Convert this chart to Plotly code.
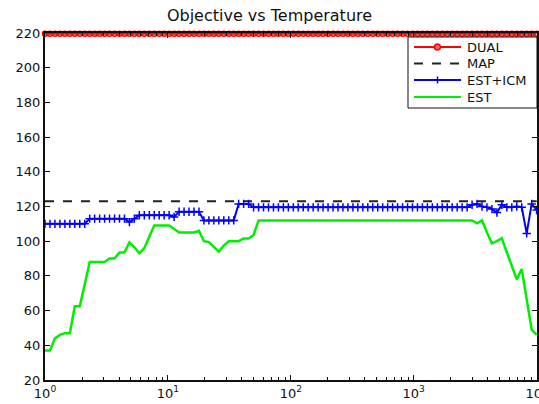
import numpy as np
import plotly.graph_objects as go

# Temperature grid: 100 log-spaced samples from 1 to 10^4
temperature = np.logspace(0, 4, 100)

# Objective values per temperature sample
dual = [
    219.5, 219.5, 219.5, 219.5, 219.5, 219.5, 219.5, 219.5, 219.5, 219.5,
    219.5, 219.5, 219.5, 219.5, 219.5, 219.5, 219.5, 219.5, 219.5, 219.5,
    219.5, 219.5, 219.5, 219.5, 219.5, 219.5, 219.5, 219.5, 219.5, 219.5,
    219.5, 219.5, 219.5, 219.5, 219.5, 219.5, 219.5, 219.5, 219.5, 219.5,
    219.5, 219.5, 219.5, 219.5, 219.5, 219.5, 219.5, 219.5, 219.5, 219.5,
    219.5, 219.5, 219.5, 219.5, 219.5, 219.5, 219.5, 219.5, 219.5, 219.5,
    219.5, 219.5, 219.5, 219.5, 219.5, 219.5, 219.5, 219.5, 219.5, 219.5,
    219.5, 219.5, 219.5, 219.5, 219.5, 219.5, 219.5, 219.5, 219.5, 219.5,
    219.5, 219.5, 219.5, 219.5, 219.5, 219.5, 219.5, 219.5, 219.5, 219.5,
    219.5, 219.5, 219.5, 219.5, 219.5, 219.5, 219.5, 219.5, 219.5, 219.5,
]

map_value = [123, 123]
map_temperature = [1, 10000]

est_icm = [
    110, 110, 110, 110, 110, 110, 110, 110, 110, 113,
    113, 113, 113, 113, 113, 113, 113, 111, 113, 115,
    115, 115, 115, 115, 115, 115, 114, 117, 117, 117,
    117, 117, 112, 112, 112, 112, 112, 112, 112, 121.5,
    121.5, 121.5, 119.5, 119.5, 119.5, 119.5, 119.5, 119.5, 119.5, 119.5,
    119.5, 119.5, 119.5, 119.5, 119.5, 119.5, 119.5, 119.5, 119.5, 119.5,
    119.5, 119.5, 119.5, 119.5, 119.5, 119.5, 119.5, 119.5, 119.5, 119.5,
    119.5, 119.5, 119.5, 119.5, 119.5, 119.5, 119.5, 119.5, 119.5, 119.5,
    119.5, 119.5, 119.5, 119.5, 119.5, 119.5, 121, 121.5, 120, 119.5,
    118.5, 116.5, 121, 119.5, 119.5, 120, 119.5, 104.5, 121.5, 118,
]

est = [
    37, 37, 44, 46, 47, 47, 62.5, 62.5, 75, 88,
    88, 88, 88, 90, 90, 93.5, 93.5, 99.3, 96.5, 93,
    96, 102.5, 109, 109, 109, 109, 107, 105, 105, 105,
    105, 106, 100, 99.5, 97, 94, 97.5, 100, 100, 100,
    101.6, 101.6, 103.6, 112, 112, 112, 112, 112, 112, 112,
    112, 112, 112, 112, 112, 112, 112, 112, 112, 112,
    112, 112, 112, 112, 112, 112, 112, 112, 112, 112,
    112, 112, 112, 112, 112, 112, 112, 112, 112, 112,
    112, 112, 112, 112, 112, 112, 112, 110.3, 112, 105,
    98.8, 100, 101.6, 93.5, 86, 78, 84, 66, 49, 46,
]

series_names = ["DUAL", "MAP", "EST+ICM", "EST"]
series_colors = ["#ff0000", "#222222", "#0000ff", "#00ee00"]

x_tick_vals = [1, 10, 100, 1000, 10000]
x_tick_text = ["10<sup>0</sup>", "10<sup>1</sup>", "10<sup>2</sup>",
               "10<sup>3</sup>", "10<sup>4</sup>"]
x_minor_vals = [m * 10 ** d for d in range(4) for m in range(2, 10)]
y_tick_vals = [20, 40, 60, 80, 100, 120, 140, 160, 180, 200, 220]

FONT = "DejaVu Sans, Liberation Sans, Arial, sans-serif"
W, H = 539, 404
ML, MR, MT, MB = 45, 2, 33, 24
PW, PH = W - ML - MR, H - MT - MB


def px(x):
    """Pixel x to paper coordinate."""
    return (x - ML) / PW


def py(y):
    """Pixel y (from top) to paper coordinate."""
    return (H - MB - y) / PH


fig = go.Figure()

fig.add_trace(go.Scatter(
    x=temperature, y=dual, name=series_names[0], mode="lines+markers",
    line=dict(color=series_colors[0], width=2),
    marker=dict(symbol="circle-open", size=5, color=series_colors[0],
                line=dict(color=series_colors[0], width=1.5)),
    cliponaxis=False,
))
fig.add_trace(go.Scatter(
    x=map_temperature, y=map_value, name=series_names[1], mode="lines",
    line=dict(color=series_colors[1], width=2, dash="dash"),
))
fig.add_trace(go.Scatter(
    x=temperature, y=est_icm, name=series_names[2], mode="lines+markers",
    line=dict(color=series_colors[2], width=2),
    marker=dict(symbol="cross-thin", size=6, color=series_colors[2],
                line=dict(color=series_colors[2], width=1.5)),
))
fig.add_trace(go.Scatter(
    x=temperature, y=est, name=series_names[3], mode="lines",
    line=dict(color=series_colors[3], width=2.5),
))

# Legend box drawn with shapes and annotations for compact row spacing
shapes = [dict(type="rect", xref="paper", yref="paper",
               x0=px(408), x1=px(537), y0=py(108), y1=py(37),
               fillcolor="white", line=dict(color="#111111", width=1),
               layer="above")]
annotations = []
row_y = [47, 63.5, 80, 97]
line_x0, line_x1, mark_x, text_x = 414, 461, 437.5, 465
for i, (name, color) in enumerate(zip(series_names, series_colors)):
    yy = py(row_y[i])
    shapes.append(dict(type="line", xref="paper", yref="paper",
                       x0=px(line_x0), x1=px(line_x1), y0=yy, y1=yy,
                       line=dict(color=color, width=2,
                                 dash="dash" if name == "MAP" else "solid"),
                       layer="above"))
    if name == "DUAL":
        shapes.append(dict(type="circle", xref="paper", yref="paper",
                           x0=px(mark_x - 3), x1=px(mark_x + 3),
                           y0=py(row_y[i] + 3), y1=py(row_y[i] - 3),
                           fillcolor="#ff6666", line=dict(color=color, width=1.5),
                           layer="above"))
    if name == "EST+ICM":
        shapes.append(dict(type="line", xref="paper", yref="paper",
                           x0=px(mark_x), x1=px(mark_x),
                           y0=py(row_y[i] + 3.5), y1=py(row_y[i] - 3.5),
                           line=dict(color=color, width=1.5), layer="above"))
    annotations.append(dict(text=name, xref="paper", yref="paper",
                            x=px(text_x), y=yy, xanchor="left", yanchor="middle",
                            showarrow=False,
                            font=dict(family=FONT, size=13, color="#111111")))

axis_font = dict(family=FONT, size=13, color="#111111")

fig.update_layout(
    width=W, height=H,
    margin=dict(l=ML, r=MR, t=MT, b=MB, autoexpand=False),
    paper_bgcolor="white", plot_bgcolor="white",
    title=dict(text="Objective vs Temperature", x=0.5,
               xanchor="center", y=1 - 15 / H, yanchor="middle",
               font=dict(family=FONT, size=16, color="#111111")),
    showlegend=False,
    shapes=shapes,
    annotations=annotations,
    xaxis=dict(
        type="log", range=[0, 4.003], showgrid=False, zeroline=False,
        showline=True, linecolor="#111111", linewidth=2, mirror="ticks",
        ticks="inside", ticklen=5, tickcolor="#111111", tickwidth=1,
        tickmode="array", tickvals=x_tick_vals, ticktext=x_tick_text,
        tickfont=axis_font, ticklabeloverflow="allow", automargin=False,
        minor=dict(tickmode="array", tickvals=x_minor_vals, ticks="inside",
                   ticklen=3, tickcolor="#111111", tickwidth=1, showgrid=False),
    ),
    yaxis=dict(
        range=[20, 220], showgrid=False, zeroline=False,
        showline=True, linecolor="#111111", linewidth=2, mirror="ticks",
        ticks="inside", ticklen=5, tickcolor="#111111", tickwidth=1,
        tickmode="array", tickvals=y_tick_vals,
        tickfont=axis_font, automargin=False,
    ),
)

fig.write_html("out.html")
